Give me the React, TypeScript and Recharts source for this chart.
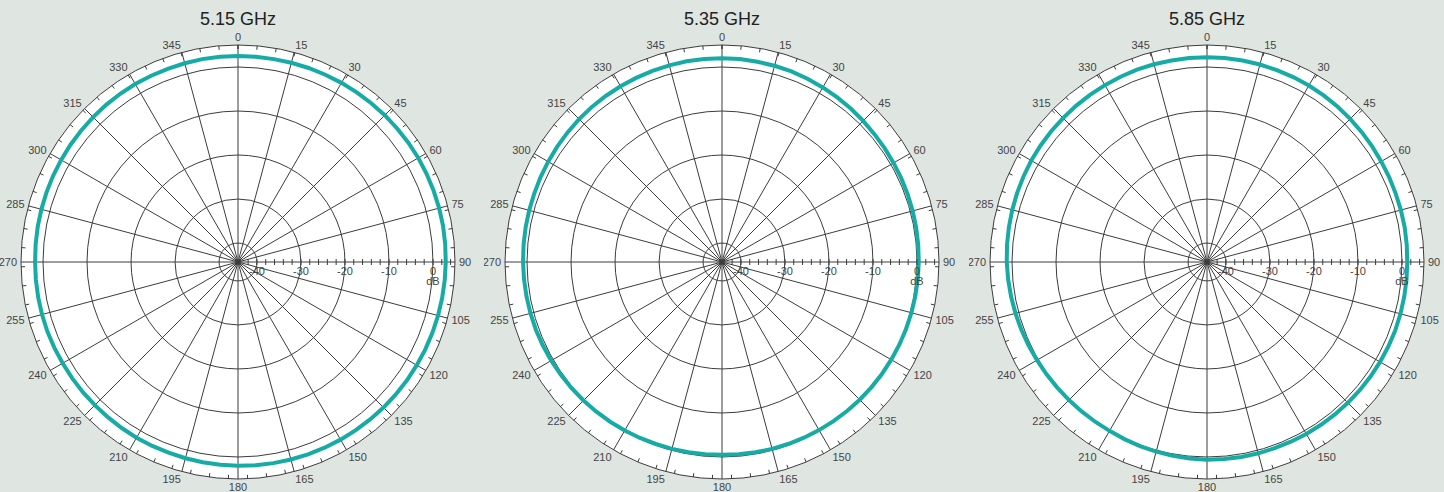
import React from 'react';
import { RadarChart, Radar, PolarGrid, PolarAngleAxis, PolarRadiusAxis } from 'recharts';

// measurement angles (deg, clockwise from 0 at top)
const angles = [0, 5, 10, 15, 20, 25, 30, 35, 40, 45, 50, 55, 60, 65, 70, 75, 80, 85, 90, 95,
  100, 105, 110, 115, 120, 125, 130, 135, 140, 145, 150, 155, 160, 165, 170, 175, 180, 185, 190, 195,
  200, 205, 210, 215, 220, 225, 230, 235, 240, 245, 250, 255, 260, 265, 270, 275, 280, 285, 290, 295,
  300, 305, 310, 315, 320, 325, 330, 335, 340, 345, 350, 355];

// gain in dB
const gain515 = [2.5, 2.5, 2.5, 2.55, 2.6, 2.65, 2.7, 2.75, 2.8, 2.85, 2.9, 2.95, 3.0, 3.0, 3.0, 3.0, 3.0, 2.95,
  2.9, 2.85, 2.8, 2.75, 2.7, 2.65, 2.6, 2.55, 2.5, 2.45, 2.4, 2.35, 2.3, 2.25, 2.2, 2.15, 2.1, 2.05,
  2.0, 1.95, 1.9, 1.85, 1.8, 1.8, 1.8, 1.75, 1.7, 1.7, 1.7, 1.7, 1.7, 1.75, 1.8, 1.8, 1.8, 1.8,
  1.8, 1.85, 1.9, 1.95, 2.0, 2.05, 2.1, 2.15, 2.2, 2.25, 2.3, 2.35, 2.4, 2.4, 2.4, 2.45, 2.5, 2.5];
const gain535 = [2.0, 2.0, 1.9, 1.85, 1.8, 1.65, 1.5, 1.35, 1.2, 1.05, 0.9, 0.8, 0.7, 0.65, 0.6, 0.55, 0.5, 0.45,
  0.4, 0.35, 0.3, 0.25, 0.2, 0.15, 0.1, 0.05, 0.0, -0.05, -0.1, -0.15, -0.2, -0.25, -0.3, -0.35, -0.4, -0.45,
  -0.5, -0.45, -0.4, -0.35, -0.3, -0.2, -0.1, 0.0, 0.1, 0.2, 0.3, 0.4, 0.5, 0.6, 0.7, 0.75, 0.8, 0.85,
  0.9, 0.95, 1.0, 1.05, 1.1, 1.2, 1.3, 1.4, 1.5, 1.6, 1.7, 1.75, 1.8, 1.85, 1.9, 1.95, 2.0, 2.0];
const gain585 = [2.2, 2.2, 2.2, 2.15, 2.1, 2.05, 2.0, 1.9, 1.8, 1.7, 1.6, 1.5, 1.4, 1.35, 1.3, 1.3, 1.3, 1.25,
  1.2, 1.2, 1.2, 1.2, 1.2, 1.15, 1.1, 1.05, 1.0, 0.95, 0.9, 0.85, 0.8, 0.75, 0.7, 0.7, 0.7, 0.65,
  0.6, 0.5, 0.4, 0.3, 0.2, 0.1, 0.0, 0.0, 0.0, 0.05, 0.1, 0.2, 0.3, 0.45, 0.6, 0.75, 0.9, 1.05,
  1.2, 1.3, 1.4, 1.5, 1.6, 1.7, 1.8, 1.85, 1.9, 1.95, 2.0, 2.05, 2.1, 2.15, 2.2, 2.2, 2.2, 2.2];

const titles = ['5.15 GHz', '5.35 GHz', '5.85 GHz'];
const series = [gain515, gain535, gain585];

const angleTicks = [0, 15, 30, 45, 60, 75, 90, 105, 120, 135, 150, 165, 180, 195, 210, 225, 240, 255,
  270, 285, 300, 315, 330, 345];
const minorAngleTicks = [0, 5, 10, 15, 20, 25, 30, 35, 40, 45, 50, 55, 60, 65, 70, 75, 80, 85, 90, 95,
  100, 105, 110, 115, 120, 125, 130, 135, 140, 145, 150, 155, 160, 165, 170, 175, 180, 185, 190, 195,
  200, 205, 210, 215, 220, 225, 230, 235, 240, 245, 250, 255, 260, 265, 270, 275, 280, 285, 290, 295,
  300, 305, 310, 315, 320, 325, 330, 335, 340, 345, 350, 355];
const dbTicks = [-40, -30, -20, -10, 0];
const minorDbTicks = [-42, -40, -38, -36, -34, -32, -30, -28, -26, -24, -22, -20, -18, -16, -14, -12,
  -10, -8, -6, -4, -2, 0, 2, 4];
const dbDomain = [-44.3, 5];

const FONT = '"Liberation Sans", Arial, sans-serif';
const W = 476;
const H = 492;
const CX = 238;
const CY = 262;
const R = 217;
const lefts = [0, 484, 969];
const TEAL = '#16aba4';
const LINE = '#3c3c3c';

// radii of the dB rings, same linear mapping as the radius axis
const gridRadii = dbTicks.map((v) => ((v - dbDomain[0]) / (dbDomain[1] - dbDomain[0])) * R);

function AngleLabel(props: any) {
  const { x, y, payload } = props;
  const rad = (payload.coordinate * Math.PI) / 180;
  const c = Math.cos(rad);
  const s = Math.sin(rad);
  const anchor = c > 0.05 ? 'start' : c < -0.05 ? 'end' : 'middle';
  return (
    <text x={x} y={y + 4 - s * 4} textAnchor={anchor} fontSize={11} fill="#444" fontFamily={FONT}>
      {payload.value}
    </text>
  );
}

function DbTick(props: any) {
  const { x, y, payload } = props;
  const v = payload.value;
  return (
    <g>
      <line x1={x} x2={x} y1={y - 3} y2={y + 3} stroke={LINE} strokeWidth={1} />
      {dbTicks.includes(v) && (
        <text x={x} y={y + 13} textAnchor="middle" fontSize={11} fill="#444" fontFamily={FONT}>
          {v}
        </text>
      )}
      {v === 0 && (
        <text x={x} y={y + 23} textAnchor="middle" fontSize={11} fill="#444" fontFamily={FONT}>
          dB
        </text>
      )}
    </g>
  );
}

function PolarPanel({ title, gain, left }: { title: string; gain: number[]; left: number }) {
  const data = angles.map((a, i) => ({ angle: a, gain: gain[i] }));
  return (
    <div style={{ position: 'absolute', left, top: 0, width: W, height: H }}>
      <div
        style={{
          position: 'absolute', left: CX - R, top: CY - R, width: R * 2, height: R * 2,
          borderRadius: '50%', background: '#fff',
        }}
      />
      <div
        style={{
          position: 'absolute', left: 0, width: W, top: 10, textAlign: 'center',
          fontFamily: FONT, fontSize: 18, lineHeight: '18px', color: '#222',
        }}
      >
        {title}
      </div>
      <div style={{ position: 'absolute', left: 0, top: 0 }}>
        <RadarChart
          width={W}
          height={H}
          data={data}
          cx={CX}
          cy={CY}
          outerRadius={R}
          startAngle={90}
          endAngle={-270}
          margin={{ top: 0, right: 0, bottom: 0, left: 0 }}
        >
          <PolarGrid gridType="circle" stroke={LINE} strokeWidth={1} polarRadius={gridRadii} />
          <PolarAngleAxis
            dataKey="angle"
            type="number"
            domain={[0, 360]}
            ticks={angleTicks}
            axisLineType="circle"
            axisLine={{ stroke: LINE }}
            tickLine={false}
            tickSize={4}
            tick={<AngleLabel />}
          />
          <PolarAngleAxis
            angleAxisId={1}
            type="number"
            domain={[0, 360]}
            ticks={minorAngleTicks}
            orientation="inner"
            axisLine={false}
            tickLine={{ stroke: LINE }}
            tickSize={4}
            tick={false}
          />
          <PolarRadiusAxis
            angle={0}
            type="number"
            domain={dbDomain}
            ticks={minorDbTicks}
            axisLine={false}
            tick={<DbTick />}
          />
          <Radar
            dataKey="gain"
            stroke={TEAL}
            strokeWidth={4}
            fill="none"
            fillOpacity={0}
            dot={false}
            isAnimationActive={false}
          />
        </RadarChart>
      </div>
    </div>
  );
}

export default function App() {
  return (
    <div style={{ position: 'relative', width: 1444, height: 492, background: '#dfe5e1', overflow: 'hidden' }}>
      <style>{'body{margin:0}'}</style>
      {titles.map((t, i) => (
        <PolarPanel key={t} title={t} gain={series[i]} left={lefts[i]} />
      ))}
    </div>
  );
}
